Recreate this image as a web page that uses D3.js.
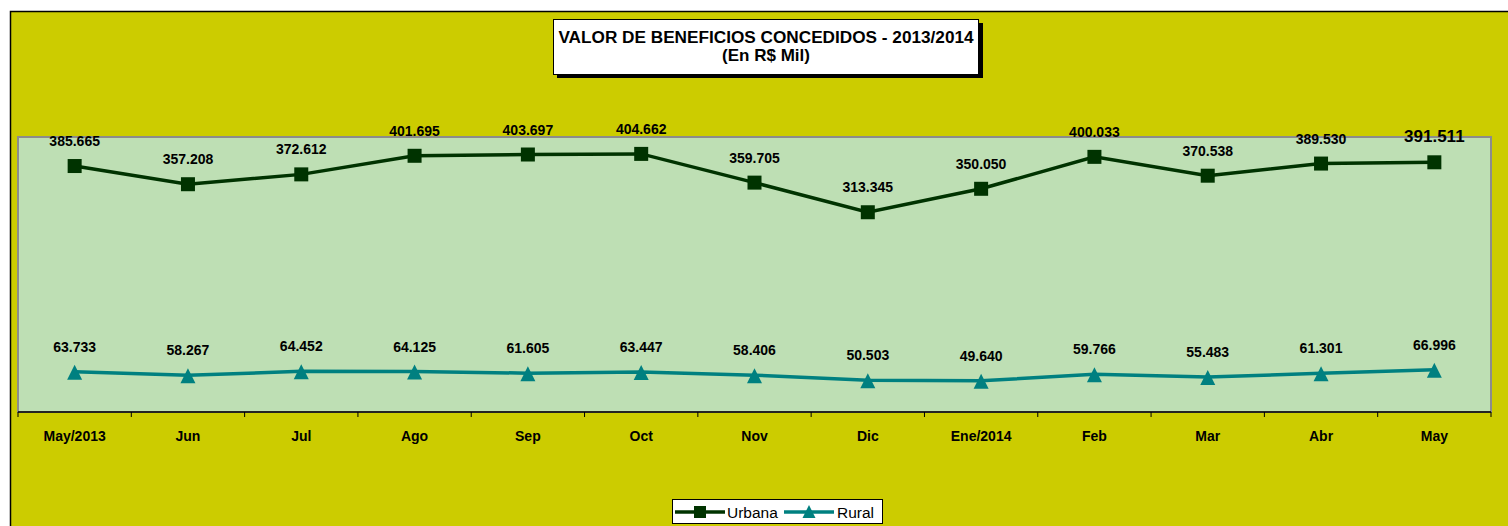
<!DOCTYPE html>
<html>
<head>
<meta charset="utf-8">
<script src="https://cdn.jsdelivr.net/npm/d3@7"></script>
<style>
  body { margin: 0; background: #ffffff; }
  svg text { font-family: "Liberation Sans", Arial, sans-serif; }
</style>
</head>
<body>
<div id="chart"></div>
<script>
const months = ["May/2013", "Jun", "Jul", "Ago", "Sep", "Oct", "Nov", "Dic", "Ene/2014", "Feb", "Mar", "Abr", "May"];
const urbana = [385.665, 357.208, 372.612, 401.695, 403.697, 404.662, 359.705, 313.345, 350.050, 400.033, 370.538, 389.530, 391.511];
const rural = [63.733, 58.267, 64.452, 64.125, 61.605, 63.447, 58.406, 50.503, 49.640, 59.766, 55.483, 61.301, 66.996];
const fmt = v => v.toFixed(3);

const width = 1508, height = 526;
const plot = { left: 18, top: 137, right: 1491, bottom: 412 };

const svg = d3.select("#chart").append("svg")
  .attr("width", width)
  .attr("height", height);

// outer chart area
svg.append("rect")
  .attr("x", 10).attr("y", 12)
  .attr("width", width - 10).attr("height", height - 12)
  .attr("fill", "#cccc00");
svg.append("path")
  .attr("d", `M10.5,${height} V11.5 H${width}`)
  .attr("fill", "none").attr("stroke", "#000").attr("stroke-width", 1.5);

// plot area
svg.append("rect")
  .attr("x", plot.left).attr("y", plot.top)
  .attr("width", plot.right - plot.left).attr("height", plot.bottom - plot.top)
  .attr("fill", "#bedfb4")
  .attr("stroke", "#8c8c8c").attr("stroke-width", 2);

const x = d3.scaleBand()
  .domain(months)
  .range([plot.left, plot.right]);

const y = d3.scaleLinear()
  .domain([0, 430])
  .range([412.5, 137.7]);

// x axis
const axis = svg.append("g").attr("transform", `translate(0,${plot.bottom})`);
axis.append("line")
  .attr("x1", plot.left).attr("x2", plot.right)
  .attr("stroke", "#000").attr("stroke-width", 1.5);
axis.selectAll(".tick")
  .data(d3.range(months.length + 1))
  .join("line")
  .attr("class", "tick")
  .attr("x1", i => plot.left + i * x.step())
  .attr("x2", i => plot.left + i * x.step())
  .attr("y1", 0).attr("y2", 5)
  .attr("stroke", "#000");
axis.selectAll(".label")
  .data(months)
  .join("text")
  .attr("class", "label")
  .attr("x", d => x(d) + x.bandwidth() / 2)
  .attr("y", 29)
  .attr("text-anchor", "middle")
  .style("font-size", "14px")
  .style("font-weight", "bold")
  .text(d => d);

const cx = i => x(months[i]) + x.bandwidth() / 2;
const line = d3.line().x((d, i) => cx(i)).y(d => y(d));

// Urbana
svg.append("path")
  .datum(urbana)
  .attr("d", line)
  .attr("fill", "none")
  .attr("stroke", "#003300")
  .attr("stroke-width", 3.5);
svg.selectAll(".sq")
  .data(urbana)
  .join("rect")
  .attr("class", "sq")
  .attr("x", (d, i) => cx(i) - 7)
  .attr("y", d => y(d) - 7)
  .attr("width", 14).attr("height", 14)
  .attr("fill", "#003300");

// Rural
svg.append("path")
  .datum(rural)
  .attr("d", line)
  .attr("fill", "none")
  .attr("stroke", "#008080")
  .attr("stroke-width", 3.5);
svg.selectAll(".tri")
  .data(rural)
  .join("path")
  .attr("class", "tri")
  .attr("transform", (d, i) => `translate(${cx(i)},${y(d)})`)
  .attr("d", "M0,-7 L7.5,8 L-7.5,8 Z")
  .attr("fill", "#008080");

// data labels
svg.selectAll(".ulab")
  .data(urbana)
  .join("text")
  .attr("class", "ulab")
  .attr("x", (d, i) => cx(i))
  .attr("y", (d, i) => y(d) - 20)
  .attr("text-anchor", "middle")
  .style("font-size", (d, i) => i === urbana.length - 1 ? "17px" : "14px")
  .style("font-weight", "bold")
  .text(fmt);
svg.selectAll(".rlab")
  .data(rural)
  .join("text")
  .attr("class", "rlab")
  .attr("x", (d, i) => cx(i))
  .attr("y", d => y(d) - 20)
  .attr("text-anchor", "middle")
  .style("font-size", "14px")
  .style("font-weight", "bold")
  .text(fmt);

// title box
const title = svg.append("g");
title.append("rect")
  .attr("x", 557).attr("y", 23).attr("width", 426).attr("height", 55)
  .attr("fill", "#000");
title.append("rect")
  .attr("x", 553.5).attr("y", 19.5).attr("width", 425).attr("height", 55)
  .attr("fill", "#fff").attr("stroke", "#000");
title.append("text")
  .attr("x", 766).attr("y", 43)
  .attr("text-anchor", "middle")
  .style("font-size", "17.2px").style("font-weight", "bold")
  .text("VALOR DE BENEFICIOS CONCEDIDOS - 2013/2014");
title.append("text")
  .attr("x", 766).attr("y", 61)
  .attr("text-anchor", "middle")
  .style("font-size", "17px").style("font-weight", "bold")
  .text("(En R$ Mil)");

// legend
const legend = svg.append("g").attr("transform", "translate(672,499)");
legend.append("rect")
  .attr("x", 0.5).attr("y", 0.5).attr("width", 210).attr("height", 24)
  .attr("fill", "#fff").attr("stroke", "#000");
const items = [
  { name: "Urbana", color: "#003300", shape: "square", x0: 3, tx: 55 },
  { name: "Rural", color: "#008080", shape: "triangle", x0: 112, tx: 165 }
];
items.forEach(it => {
  legend.append("line")
    .attr("x1", it.x0).attr("x2", it.x0 + 50)
    .attr("y1", 13).attr("y2", 13)
    .attr("stroke", it.color).attr("stroke-width", 3.5);
  if (it.shape === "square") {
    legend.append("rect")
      .attr("x", it.x0 + 19).attr("y", 7).attr("width", 12).attr("height", 12)
      .attr("fill", it.color);
  } else {
    legend.append("path")
      .attr("transform", `translate(${it.x0 + 25},12)`)
      .attr("d", "M0,-6 L6.5,7 L-6.5,7 Z")
      .attr("fill", it.color);
  }
  legend.append("text")
    .attr("x", it.tx).attr("y", 19)
    .style("font-size", "15.5px")
    .text(it.name);
});
</script>
</body>
</html>
